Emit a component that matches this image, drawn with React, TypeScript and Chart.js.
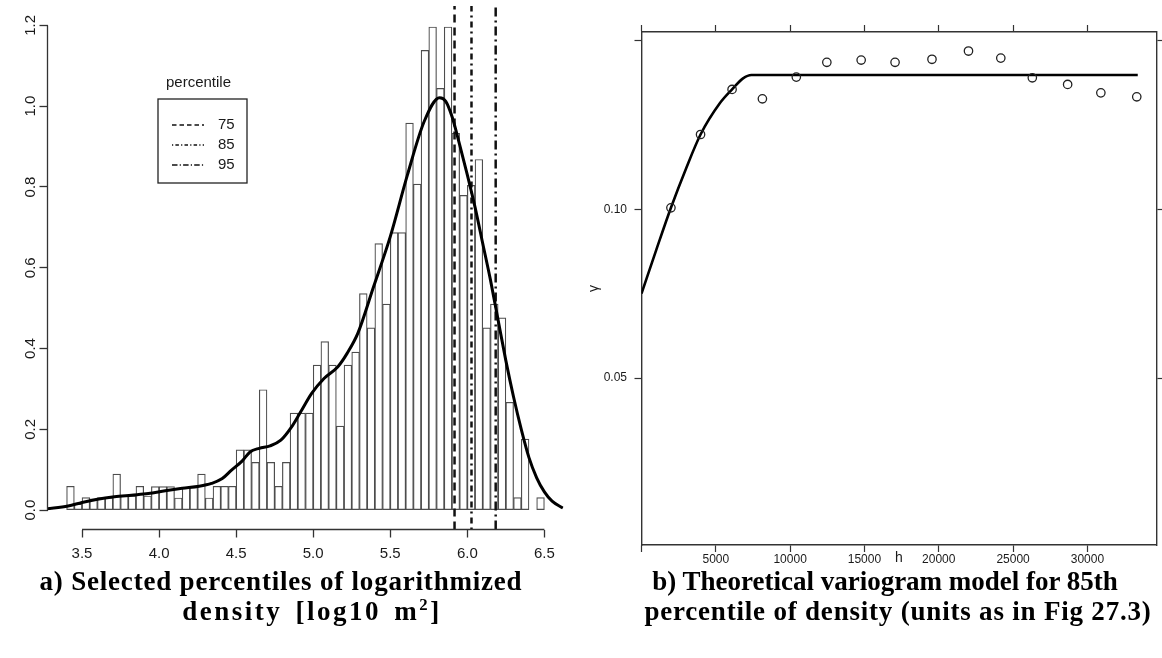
import React, { useEffect, useRef } from 'react';
import { Chart, registerables } from 'chart.js';

Chart.register(...registerables);

// ---------- Panel a) data ----------
const BIN_START = [
  3.40, 3.45, 3.50, 3.55, 3.60, 3.65, 3.70, 3.75, 3.80, 3.85,
  3.90, 3.95, 4.00, 4.05, 4.10, 4.15, 4.20, 4.25, 4.30, 4.35,
  4.40, 4.45, 4.50, 4.55, 4.60, 4.65, 4.70, 4.75, 4.80, 4.85,
  4.90, 4.95, 5.00, 5.05, 5.10, 5.15, 5.20, 5.25, 5.30, 5.35,
  5.40, 5.45, 5.50, 5.55, 5.60, 5.65, 5.70, 5.75, 5.80, 5.85,
  5.90, 5.95, 6.00, 6.05, 6.10, 6.15, 6.20, 6.25, 6.30, 6.35,
  6.40, 6.45,
];
const BIN_DENSITY = [
  0.059, 0.015, 0.031, 0.028, 0.031, 0.031, 0.089, 0.035, 0.035, 0.059,
  0.035, 0.058, 0.058, 0.058, 0.030, 0.056, 0.059, 0.089, 0.030, 0.059,
  0.059, 0.059, 0.149, 0.149, 0.118, 0.298, 0.118, 0.059, 0.118, 0.240,
  0.240, 0.240, 0.359, 0.417, 0.359, 0.208, 0.359, 0.391, 0.536, 0.451,
  0.660, 0.510, 0.687, 0.687, 0.958, 0.807, 1.138, 1.196, 1.044, 1.196,
  0.933, 0.779, 0.804, 0.868, 0.451, 0.510, 0.476, 0.267, 0.031, 0.176,
  0.000, 0.031,
];
const BIN_WIDTH = 0.05;

const DENSITY_X = [
  3.27, 3.41, 3.50, 3.60, 3.71, 3.82, 3.93, 4.04, 4.15, 4.26,
  4.34, 4.41, 4.47, 4.54, 4.59, 4.65, 4.72, 4.79, 4.86, 4.92,
  4.99, 5.07, 5.16, 5.22, 5.29, 5.39, 5.50, 5.61, 5.72, 5.82,
  5.86, 5.90, 5.95, 6.00, 6.05, 6.10, 6.15, 6.20, 6.25, 6.30,
  6.35, 6.40, 6.45, 6.50, 6.55, 6.62,
];
const DENSITY_Y = [
  0.003, 0.010, 0.019, 0.027, 0.033, 0.037, 0.041, 0.048, 0.054, 0.059,
  0.066, 0.078, 0.099, 0.122, 0.144, 0.153, 0.159, 0.173, 0.206, 0.244,
  0.289, 0.326, 0.355, 0.388, 0.438, 0.551, 0.677, 0.828, 0.962, 1.021,
  1.012, 0.975, 0.905, 0.830, 0.750, 0.660, 0.570, 0.470, 0.370, 0.280,
  0.200, 0.130, 0.080, 0.045, 0.022, 0.005,
];

const PERCENTILE_LABELS = ['75', '85', '95'];
const PERCENTILE_VALUES = [5.917, 6.027, 6.184];
const LEGEND_TITLE = 'percentile';

const LEFT_X_TICKS = [3.5, 4.0, 4.5, 5.0, 5.5, 6.0, 6.5];
const LEFT_Y_TICKS = [0, 0.2, 0.4, 0.6, 0.8, 1.0, 1.2];
const LEFT_X_RANGE = [3.276, 6.624];
const LEFT_Y_RANGE = [-0.048, 1.248];

// ---------- Panel b) data ----------
const LAG_H = [1980, 3973, 6094, 8134, 10416, 12470, 14779, 17060, 19544, 22000, 24174, 26295, 28671, 30906, 33322];
const SEMIVARIANCE = [0.1007, 0.1361, 0.1638, 0.1576, 0.1723, 0.1831, 0.1848, 0.1831, 0.1854, 0.1918, 0.1863, 0.1718, 0.1672, 0.1615, 0.1589];
const MODEL_H = [0, 1000, 1980, 3000, 3973, 5268, 6094, 6832, 7396, 33389];
const MODEL_GAMMA = [0.0708, 0.0848, 0.1007, 0.1184, 0.1361, 0.1547, 0.1638, 0.1714, 0.1738, 0.1738];

const RIGHT_X_TICKS = [0, 5000, 10000, 15000, 20000, 25000, 30000];
const RIGHT_X_LABELS = ['', '5000', '10000', '15000', '20000', '25000', '30000'];
const RIGHT_Y_TICKS = [0.05, 0.1, 0.2];
const RIGHT_Y_LABELS = ['0.05', '0.10', ''];
const RIGHT_X_RANGE = [0, 34650];
const RIGHT_Y_RANGE = [0.02519, 0.2074];

// ---------- Styles ----------
const FONT_SANS = "'Liberation Sans', Arial, Helvetica, sans-serif";
const FONT_SERIF = "'Liberation Serif', 'Times New Roman', serif";
const INK = '#1a1a1a';
const AXIS = '#333333';
const PERCENTILE_DASH = [[8, 5], [2, 4, 6, 4], [9, 4, 2, 4]];
const LEGEND_DASH = [[4.5, 3], [1.2, 2.2, 3.5, 2.2], [5.5, 2.2, 1.2, 2.2]];

const zeroPad = (s: any) => {
  s.paddingLeft = 0;
  s.paddingRight = 0;
  s.paddingTop = 0;
  s.paddingBottom = 0;
};

const leftDecor = {
  id: 'leftDecor',
  afterDraw(chart: any) {
    const { ctx, chartArea, scales } = chart;
    const xs = scales.x;
    const ys = scales.y;
    ctx.save();
    ctx.strokeStyle = AXIS;
    ctx.lineWidth = 1.3;
    ctx.setLineDash([]);
    ctx.beginPath();
    ctx.moveTo(xs.getPixelForValue(LEFT_X_TICKS[0]), chartArea.bottom);
    ctx.lineTo(xs.getPixelForValue(LEFT_X_TICKS[LEFT_X_TICKS.length - 1]), chartArea.bottom);
    ctx.moveTo(chartArea.left, ys.getPixelForValue(LEFT_Y_TICKS[0]));
    ctx.lineTo(chartArea.left, ys.getPixelForValue(LEFT_Y_TICKS[LEFT_Y_TICKS.length - 1]));
    ctx.stroke();

    // legend
    const bx = 158;
    const by = 99;
    const bw = 89;
    const bh = 84;
    ctx.fillStyle = '#ffffff';
    ctx.fillRect(bx, by, bw, bh);
    ctx.strokeStyle = '#222';
    ctx.lineWidth = 1.3;
    ctx.strokeRect(bx, by, bw, bh);
    ctx.fillStyle = INK;
    ctx.font = `15px ${FONT_SANS}`;
    ctx.textAlign = 'center';
    ctx.textBaseline = 'middle';
    ctx.fillText(LEGEND_TITLE, bx + bw / 2 - 4, by - 16);
    PERCENTILE_LABELS.forEach((lab, i) => {
      const yy = by + 26 + i * 20;
      ctx.strokeStyle = '#111';
      ctx.lineWidth = 1.4;
      ctx.setLineDash(LEGEND_DASH[i]);
      ctx.beginPath();
      ctx.moveTo(bx + 14, yy);
      ctx.lineTo(bx + 46, yy);
      ctx.stroke();
      ctx.setLineDash([]);
      ctx.textAlign = 'left';
      ctx.fillText(lab, bx + 60, yy);
    });
    ctx.restore();
  },
};

function LeftChart() {
  const ref = useRef<HTMLCanvasElement>(null);
  useEffect(() => {
    const canvas = ref.current;
    if (!canvas) return;
    const histData = BIN_START.map((s, i) => ({ x: s + BIN_WIDTH / 2, y: BIN_DENSITY[i] }));
    const densityData = DENSITY_X.map((x, i) => ({ x, y: DENSITY_Y[i] }));
    const percentileSets = PERCENTILE_VALUES.map((v, i) => ({
      type: 'line' as const,
      data: [{ x: v, y: LEFT_Y_RANGE[0] }, { x: v, y: LEFT_Y_RANGE[1] }],
      borderColor: '#111',
      borderWidth: 2.5,
      borderDash: PERCENTILE_DASH[i],
      pointRadius: 0,
      fill: false,
      order: 2,
    }));
    const chart = new Chart(canvas, {
      type: 'bar',
      data: {
        datasets: [
          {
            type: 'bar',
            data: histData as any,
            backgroundColor: '#ffffff',
            borderColor: '#4d4d4d',
            borderWidth: 1.2,
            borderSkipped: false,
            barPercentage: 1,
            categoryPercentage: 1,
            order: 3,
          } as any,
          ...percentileSets,
          {
            type: 'line',
            data: densityData,
            borderColor: '#000',
            borderWidth: 3,
            pointRadius: 0,
            fill: false,
            cubicInterpolationMode: 'monotone',
            order: 1,
          } as any,
        ],
      },
      options: {
        responsive: false,
        animation: false,
        events: [],
        layout: { padding: { left: 0, top: 6, right: 16.5, bottom: 0 } },
        plugins: { legend: { display: false }, tooltip: { enabled: false } },
        scales: {
          x: {
            type: 'linear',
            min: LEFT_X_RANGE[0],
            max: LEFT_X_RANGE[1],
            offset: false,
            afterBuildTicks: (s: any) => {
              s.ticks = LEFT_X_TICKS.map((v) => ({ value: v }));
            },
            afterFit: (s: any) => {
              s.height = 60.5;
              zeroPad(s);
            },
            border: { display: false },
            grid: {
              display: true,
              offset: false,
              drawOnChartArea: false,
              drawTicks: true,
              tickLength: 8,
              tickColor: AXIS,
              tickWidth: 1.3,
            },
            ticks: {
              autoSkip: false,
              maxRotation: 0,
              padding: 7,
              color: INK,
              font: { family: FONT_SANS, size: 15 },
              callback: (v: any) => Number(v).toFixed(1),
            },
          },
          y: {
            type: 'linear',
            min: LEFT_Y_RANGE[0],
            max: LEFT_Y_RANGE[1],
            afterBuildTicks: (s: any) => {
              s.ticks = LEFT_Y_TICKS.map((v) => ({ value: v }));
            },
            afterFit: (s: any) => {
              s.width = 47.5;
              zeroPad(s);
            },
            border: { display: false },
            grid: {
              display: true,
              drawOnChartArea: false,
              drawTicks: true,
              tickLength: 8,
              tickColor: AXIS,
              tickWidth: 1.3,
            },
            ticks: {
              autoSkip: false,
              minRotation: 90,
              maxRotation: 90,
              crossAlign: 'center',
              padding: -2,
              color: INK,
              font: { family: FONT_SANS, size: 15 },
              callback: (v: any) => Number(v).toFixed(1),
            },
          },
        },
      } as any,
      plugins: [leftDecor],
    });
    return () => chart.destroy();
  }, []);
  return (
    <canvas
      ref={ref}
      width={580}
      height={590}
      style={{ position: 'absolute', left: 0, top: 0, width: 580, height: 590, display: 'block' }}
    />
  );
}

function RightChart() {
  const ref = useRef<HTMLCanvasElement>(null);
  useEffect(() => {
    const canvas = ref.current;
    if (!canvas) return;
    const sampleData = LAG_H.map((h, i) => ({ x: h, y: SEMIVARIANCE[i] }));
    const modelData = MODEL_H.map((h, i) => ({ x: h, y: MODEL_GAMMA[i] }));
    const tickGrid = {
      display: true,
      drawOnChartArea: false,
      drawTicks: true,
      tickLength: 7,
      tickColor: AXIS,
      tickWidth: 1.2,
    };
    const border = { display: true, color: AXIS, width: 1.4 };
    const setX = (s: any) => {
      s.ticks = RIGHT_X_TICKS.map((v) => ({ value: v }));
    };
    const setY = (s: any) => {
      s.ticks = RIGHT_Y_TICKS.map((v) => ({ value: v }));
    };
    const chart = new Chart(canvas, {
      type: 'scatter',
      data: {
        datasets: [
          {
            type: 'line',
            data: modelData,
            borderColor: '#000',
            borderWidth: 2.6,
            pointRadius: 0,
            fill: false,
            cubicInterpolationMode: 'monotone',
            order: 2,
          } as any,
          {
            type: 'scatter',
            data: sampleData,
            pointStyle: 'circle',
            pointRadius: 4.2,
            borderColor: '#222',
            borderWidth: 1.3,
            backgroundColor: 'rgba(0,0,0,0)',
            order: 1,
          } as any,
        ],
      },
      options: {
        responsive: false,
        animation: false,
        events: [],
        layout: { padding: 0 },
        plugins: { legend: { display: false }, tooltip: { enabled: false } },
        scales: {
          x: {
            type: 'linear',
            position: 'bottom',
            min: RIGHT_X_RANGE[0],
            max: RIGHT_X_RANGE[1],
            afterBuildTicks: setX,
            afterFit: (s: any) => {
              s.height = 65;
              zeroPad(s);
            },
            border,
            grid: tickGrid,
            ticks: {
              autoSkip: false,
              maxRotation: 0,
              padding: 0,
              color: INK,
              font: { family: FONT_SANS, size: 12 },
              callback: (_v: any, i: number) => RIGHT_X_LABELS[i],
            },
            title: {
              display: true,
              text: 'h',
              color: INK,
              font: { family: FONT_SANS, size: 14 },
              padding: { top: 0, bottom: 43.5 },
            },
          },
          x2: {
            type: 'linear',
            position: 'top',
            min: RIGHT_X_RANGE[0],
            max: RIGHT_X_RANGE[1],
            afterBuildTicks: setX,
            afterFit: (s: any) => {
              s.height = 32;
              zeroPad(s);
            },
            border,
            grid: tickGrid,
            ticks: { display: false },
          },
          y: {
            type: 'logarithmic',
            position: 'left',
            min: RIGHT_Y_RANGE[0],
            max: RIGHT_Y_RANGE[1],
            afterBuildTicks: setY,
            afterFit: (s: any) => {
              s.width = 61.5;
              zeroPad(s);
            },
            border,
            grid: tickGrid,
            ticks: {
              autoSkip: false,
              padding: 7.5,
              color: INK,
              font: { family: FONT_SANS, size: 12 },
              callback: (_v: any, i: number) => RIGHT_Y_LABELS[i],
            },
            title: {
              display: true,
              text: 'γ',
              color: INK,
              font: { family: FONT_SANS, size: 14 },
              padding: { top: 6, bottom: 0 },
            },
          },
          y2: {
            type: 'logarithmic',
            position: 'right',
            min: RIGHT_Y_RANGE[0],
            max: RIGHT_Y_RANGE[1],
            afterBuildTicks: setY,
            afterFit: (s: any) => {
              s.width = 4.5;
              zeroPad(s);
            },
            border,
            grid: tickGrid,
            ticks: { display: false },
          },
        },
      } as any,
    });
    return () => chart.destroy();
  }, []);
  return (
    <canvas
      ref={ref}
      width={582}
      height={610}
      style={{ position: 'absolute', left: 580, top: 0, width: 582, height: 610, display: 'block' }}
    />
  );
}

const captionStyle: React.CSSProperties = {
  position: 'absolute',
  textAlign: 'center',
  fontFamily: FONT_SERIF,
  fontWeight: 'bold',
  fontSize: 27,
  lineHeight: '30px',
  letterSpacing: '0.8px',
  color: '#000',
  whiteSpace: 'nowrap',
};

export default function App() {
  return (
    <div
      style={{
        position: 'fixed',
        left: 0,
        top: 0,
        width: 1162,
        height: 658,
        background: '#ffffff',
        overflow: 'hidden',
      }}
    >
      <LeftChart />
      <RightChart />
      <div style={{ ...captionStyle, left: 0, top: 566, width: 562 }}>
        a) Selected percentiles of logarithmized
      </div>
      <div style={{ ...captionStyle, left: 12, top: 596, width: 600, letterSpacing: '2.5px', wordSpacing: '4px' }}>
        density [log10 m<sup style={{ fontSize: '0.62em', verticalAlign: 'super', lineHeight: 0 }}>2</sup>]
      </div>
      <div style={{ ...captionStyle, left: 595, top: 566, width: 580, letterSpacing: '0px' }}>
        b) Theoretical variogram model for 85th
      </div>
      <div style={{ ...captionStyle, left: 608, top: 596, width: 580 }}>
        percentile of density (units as in Fig 27.3)
      </div>
    </div>
  );
}
